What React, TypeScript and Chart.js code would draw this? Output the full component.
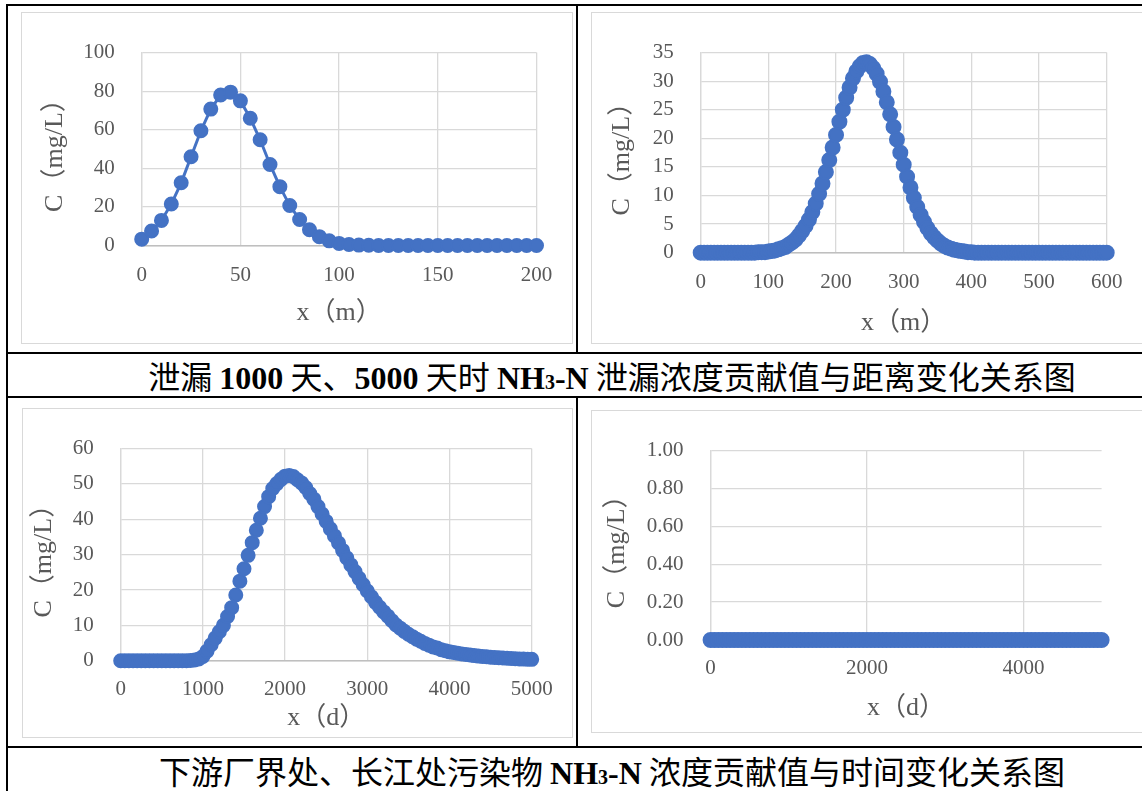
import React, { useEffect, useRef } from "react";
import { Chart, registerables } from "chart.js";
Chart.register(...registerables);

// ---------- DATA ----------
// Chart 1: leakage 1000 days, concentration vs distance (m)
const c1X = [0, 5, 10, 15, 20, 25, 30, 35, 40, 45, 50, 55, 60, 65, 70, 75, 80, 85, 90, 95, 100,
  105, 110, 115, 120, 125, 130, 135, 140, 145, 150, 155, 160, 165, 170, 175, 180, 185, 190, 195, 200];
const c1Y = [3.3, 7.5, 13, 21.5, 32.5, 46, 59.5, 70.7, 78, 79.5, 75, 66, 54.8, 42, 30.5, 20.7, 13.5, 8.2, 4.6, 2.4, 1.1,
  0.5, 0.2, 0.1, 0, 0, 0, 0, 0, 0, 0, 0, 0, 0, 0, 0, 0, 0, 0, 0, 0];
const c1XTicks = [0, 50, 100, 150, 200];
const c1YTicks = [0, 20, 40, 60, 80, 100];

// Chart 2: leakage 5000 days, concentration vs distance (m), every 5 m
const c2X = [0, 5, 10, 15, 20, 25, 30, 35, 40, 45, 50, 55, 60, 65, 70, 75, 80, 85, 90, 95,
  100, 105, 110, 115, 120, 125, 130, 135, 140, 145, 150, 155, 160, 165, 170, 175, 180, 185, 190, 195,
  200, 205, 210, 215, 220, 225, 230, 235, 240, 245, 250, 255, 260, 265, 270, 275, 280, 285, 290, 295,
  300, 305, 310, 315, 320, 325, 330, 335, 340, 345, 350, 355, 360, 365, 370, 375, 380, 385, 390, 395,
  400, 405, 410, 415, 420, 425, 430, 435, 440, 445, 450, 455, 460, 465, 470, 475, 480, 485, 490, 495,
  500, 505, 510, 515, 520, 525, 530, 535, 540, 545, 550, 555, 560, 565, 570, 575, 580, 585, 590, 595, 600];
const c2Y = [0, 0, 0, 0, 0, 0, 0, 0, 0, 0, 0, 0, 0, 0, 0, 0, 0, 0.1, 0.1, 0.1,
  0.2, 0.3, 0.4, 0.6, 0.8, 1.0, 1.4, 1.8, 2.3, 3.0, 3.8, 4.7, 5.8, 7.1, 8.6, 10.3, 12.1, 14.1, 16.2, 18.4,
  20.6, 22.9, 25.0, 27.1, 28.9, 30.5, 31.7, 32.6, 33.2, 33.3, 33.0, 32.3, 31.3, 29.9, 28.2, 26.3, 24.2, 22.0, 19.8, 17.5,
  15.4, 13.3, 11.4, 9.6, 8.0, 6.6, 5.4, 4.3, 3.4, 2.7, 2.1, 1.6, 1.2, 0.9, 0.7, 0.5, 0.4, 0.3, 0.2, 0.1,
  0.1, 0, 0, 0, 0, 0, 0, 0, 0, 0, 0, 0, 0, 0, 0, 0, 0, 0, 0, 0,
  0, 0, 0, 0, 0, 0, 0, 0, 0, 0, 0, 0, 0, 0, 0, 0, 0, 0, 0, 0, 0];
const c2XTicks = [0, 100, 200, 300, 400, 500, 600];
const c2YTicks = [0, 5, 10, 15, 20, 25, 30, 35];

// Chart 3: downstream plant boundary, concentration vs time (d), every 50 d
const c3X = [0, 50, 100, 150, 200, 250, 300, 350, 400, 450, 500, 550, 600, 650, 700, 750, 800, 850, 900, 950,
  1000, 1050, 1100, 1150, 1200, 1250, 1300, 1350, 1400, 1450, 1500, 1550, 1600, 1650, 1700, 1750, 1800, 1850, 1900, 1950,
  2000, 2050, 2100, 2150, 2200, 2250, 2300, 2350, 2400, 2450, 2500, 2550, 2600, 2650, 2700, 2750, 2800, 2850, 2900, 2950,
  3000, 3050, 3100, 3150, 3200, 3250, 3300, 3350, 3400, 3450, 3500, 3550, 3600, 3650, 3700, 3750, 3800, 3850, 3900, 3950,
  4000, 4050, 4100, 4150, 4200, 4250, 4300, 4350, 4400, 4450, 4500, 4550, 4600, 4650, 4700, 4750, 4800, 4850, 4900, 4950, 5000];
const c3Y = [0, 0, 0, 0, 0, 0, 0, 0, 0, 0, 0, 0, 0, 0, 0, 0, 0, 0.05, 0.2, 0.5,
  1.2, 2.7, 4.5, 6.4, 8.2, 10.0, 12.5, 15.0, 18.6, 22.5, 26.0, 29.8, 33.4, 36.9, 40.3, 43.6, 46.4, 48.7, 50.1, 51.3,
  52.2, 52.4, 52.1, 51.2, 50.3, 49.0, 47.3, 45.7, 43.6, 41.5, 39.4, 37.3, 35.3, 33.3, 31.2, 29.1, 27.1, 25.2, 23.3, 21.5,
  19.7, 18.1, 16.5, 15.1, 13.8, 12.6, 11.3, 10.1, 9.2, 8.3, 7.5, 6.8, 6.1, 5.5, 4.9, 4.4, 3.9, 3.6, 3.1, 2.8,
  2.5, 2.3, 2.1, 1.9, 1.75, 1.6, 1.45, 1.3, 1.2, 1.1, 1.0, 0.9, 0.82, 0.75, 0.68, 0.62, 0.56, 0.5, 0.46, 0.42, 0.38];
const c3XTicks = [0, 1000, 2000, 3000, 4000, 5000];
const c3YTicks = [0, 10, 20, 30, 40, 50, 60];

// Chart 4: Yangtze river, concentration vs time (d), every 50 d
const c4X = [0, 50, 100, 150, 200, 250, 300, 350, 400, 450, 500, 550, 600, 650, 700, 750, 800, 850, 900, 950,
  1000, 1050, 1100, 1150, 1200, 1250, 1300, 1350, 1400, 1450, 1500, 1550, 1600, 1650, 1700, 1750, 1800, 1850, 1900, 1950,
  2000, 2050, 2100, 2150, 2200, 2250, 2300, 2350, 2400, 2450, 2500, 2550, 2600, 2650, 2700, 2750, 2800, 2850, 2900, 2950,
  3000, 3050, 3100, 3150, 3200, 3250, 3300, 3350, 3400, 3450, 3500, 3550, 3600, 3650, 3700, 3750, 3800, 3850, 3900, 3950,
  4000, 4050, 4100, 4150, 4200, 4250, 4300, 4350, 4400, 4450, 4500, 4550, 4600, 4650, 4700, 4750, 4800, 4850, 4900, 4950, 5000];
const c4Y = [0, 0, 0, 0, 0, 0, 0, 0, 0, 0, 0, 0, 0, 0, 0, 0, 0, 0, 0, 0,
  0, 0, 0, 0, 0, 0, 0, 0, 0, 0, 0, 0, 0, 0, 0, 0, 0, 0, 0, 0,
  0, 0, 0, 0, 0, 0, 0, 0, 0, 0, 0, 0, 0, 0, 0, 0, 0, 0, 0, 0,
  0, 0, 0, 0, 0, 0, 0, 0, 0, 0, 0, 0, 0, 0, 0, 0, 0, 0, 0, 0,
  0, 0, 0, 0, 0, 0, 0, 0, 0, 0, 0, 0, 0, 0, 0, 0, 0, 0, 0, 0, 0];
const c4XTicks = [0, 2000, 4000];
const c4YTicks = [0, 0.2, 0.4, 0.6, 0.8, 1.0];

type Part = { t: string; b?: boolean; sub?: boolean };
const caption1: Part[] = [
  { t: "泄漏 " }, { t: "1000", b: true }, { t: " 天、" }, { t: "5000", b: true }, { t: " 天时 " },
  { t: "NH", b: true }, { t: "3", b: true, sub: true }, { t: "-N", b: true }, { t: " 泄漏浓度贡献值与距离变化关系图" },
];
const caption2: Part[] = [
  { t: "下游厂界处、长江处污染物 " }, { t: "NH", b: true }, { t: "3", b: true, sub: true }, { t: "-N", b: true },
  { t: " 浓度贡献值与时间变化关系图" },
];

// ---------- STYLE ----------
const BLUE = "#4472C4";
const GRID = "#d9d9d9";
const AXIS = "#bfbfbf";
const TEXT = "#595959";
const FONT = '"Liberation Serif", "Noto Sans CJK SC", serif';

type Spec = {
  box: { left: number; top: number; width: number; height: number };
  xs: number[]; ys: number[];
  xMin: number; xMax: number; xTicks: number[];
  yMin: number; yMax: number; yTicks: number[]; yDec: number;
  xTitle: string; yTitle: string;
  plot: { left: number; top: number; right: number; bottom: number };
  yTitlePad: number; xLabelPad: number; xTitlePad: number;
  r: number;
};

const specs: Spec[] = [
  {
    box: { left: 21, top: 12, width: 552, height: 332 },
    xs: c1X, ys: c1Y, xMin: 0, xMax: 200, xTicks: c1XTicks, yMin: 0, yMax: 100, yTicks: c1YTicks, yDec: 0,
    xTitle: "x（m）", yTitle: "C（mg/L）",
    plot: { left: 119.7, top: 30, right: 514.5, bottom: 232.5 },
    yTitlePad: 18, xLabelPad: 17, xTitlePad: 14, r: 6.5,
  },
  {
    box: { left: 591, top: 12, width: 562, height: 332 },
    xs: c2X, ys: c2Y, xMin: 0, xMax: 600, xTicks: c2XTicks, yMin: 0, yMax: 35, yTicks: c2YTicks, yDec: 0,
    xTitle: "x（m）", yTitle: "C（mg/L）",
    plot: { left: 108.7, top: 29.7, right: 514.7, bottom: 239.7 },
    yTitlePad: 15, xLabelPad: 17.5, xTitlePad: 4.5, r: 7,
  },
  {
    box: { left: 22, top: 408, width: 551, height: 330 },
    xs: c3X, ys: c3Y, xMin: 0, xMax: 5000, xTicks: c3XTicks, yMin: 0, yMax: 60, yTicks: c3YTicks, yDec: 0,
    xTitle: "x（d）", yTitle: "C（mg/L）",
    plot: { left: 97.7, top: 27.7, right: 508.7, bottom: 251.7 },
    yTitlePad: 5.5, xLabelPad: 16.5, xTitlePad: 3.5, r: 6.5,
  },
  {
    box: { left: 591, top: 410, width: 562, height: 323 },
    xs: c4X, ys: c4Y, xMin: 0, xMax: 5000, xTicks: c4XTicks, yMin: 0, yMax: 1, yTicks: c4YTicks, yDec: 2,
    xTitle: "x（d）", yTitle: "C（mg/L）",
    plot: { left: 118.6, top: 27, right: 509.6, bottom: 229 },
    yTitlePad: 9.5, xLabelPad: 15.5, xTitlePad: 8.5, r: 7,
  },
];

function ChartBox({ spec }: { spec: Spec }) {
  const ref = useRef<HTMLCanvasElement>(null);
  const W = spec.box.width - 2;
  const H = spec.box.height - 2;
  useEffect(() => {
    const p = spec.plot;
    const chart = new Chart(ref.current!, {
      type: "scatter",
      data: {
        datasets: [
          {
            data: spec.xs.map((x, i) => ({ x, y: spec.ys[i] })),
            showLine: true,
            borderColor: BLUE,
            backgroundColor: BLUE,
            borderWidth: 3,
            pointRadius: spec.r,
            pointBorderWidth: 2,
            pointBackgroundColor: BLUE,
            pointBorderColor: BLUE,
            clip: false,
          } as any,
        ],
      },
      options: {
        animation: false,
        responsive: false,
        events: [],
        layout: { padding: { left: 0, top: p.top, right: W - p.right, bottom: 0 } },
        plugins: { legend: { display: false }, tooltip: { enabled: false } },
        scales: {
          x: {
            type: "linear",
            min: spec.xMin,
            max: spec.xMax,
            afterBuildTicks: (s: any) => {
              s.ticks = spec.xTicks.map((v) => ({ value: v }));
            },
            ticks: {
              autoSkip: false,
              maxRotation: 0,
              padding: spec.xLabelPad,
              color: TEXT,
              font: { family: FONT, size: 21 },
              callback: (v: any) => String(v),
            },
            grid: { color: GRID, lineWidth: 1.3, drawTicks: false },
            border: { display: true, color: AXIS, width: 1.5 },
            title: {
              display: true,
              text: spec.xTitle,
              color: TEXT,
              font: { family: FONT, size: 26 },
              padding: { top: 0, bottom: spec.xTitlePad },
            },
            afterFit: (s: any) => { s.height = H - p.bottom; },
          },
          y: {
            type: "linear",
            min: spec.yMin,
            max: spec.yMax,
            afterBuildTicks: (s: any) => {
              s.ticks = spec.yTicks.map((v) => ({ value: v }));
            },
            ticks: {
              autoSkip: false,
              padding: 27,
              color: TEXT,
              font: { family: FONT, size: 21 },
              callback: (v: any) => Number(v).toFixed(spec.yDec),
            },
            grid: { color: GRID, lineWidth: 1.3, drawTicks: false },
            border: { display: true, color: GRID, width: 1.3 },
            title: {
              display: true,
              text: spec.yTitle,
              color: TEXT,
              font: { family: FONT, size: 26 },
              padding: { top: spec.yTitlePad, bottom: 0 },
            },
            afterFit: (s: any) => { s.width = p.left; },
          },
        },
      } as any,
    });
    return () => chart.destroy();
  }, []);
  return (
    <div
      style={{
        position: "absolute",
        left: spec.box.left,
        top: spec.box.top,
        width: spec.box.width,
        height: spec.box.height,
        border: "1px solid #d9d9d9",
        boxSizing: "border-box",
        background: "#fff",
      }}
    >
      <canvas ref={ref} width={W} height={H} style={{ position: "absolute", left: 0, top: 0 }} />
    </div>
  );
}

function Caption({ parts, top }: { parts: Part[]; top: number }) {
  return (
    <div
      style={{
        position: "absolute",
        left: 8,
        top,
        width: 1208,
        height: 42,
        lineHeight: "42px",
        textAlign: "center",
        whiteSpace: "pre",
        fontSize: 32,
        color: "#000",
        fontFamily: '"Liberation Serif", "Noto Sans CJK SC", serif',
      }}
    >
      {parts.map((p, i) =>
        p.b ? (
          <b key={i} style={p.sub ? { fontSize: 20 } : undefined}>
            {p.t}
          </b>
        ) : (
          <span key={i} style={{ fontFamily: '"Noto Sans CJK SC", sans-serif', fontWeight: 400 }}>
            {p.t}
          </span>
        )
      )}
    </div>
  );
}

const line = (left: number, top: number, width: number, height: number) => (
  <div style={{ position: "absolute", left, top, width, height, background: "#000" }} />
);

export default function App() {
  return (
    <div
      style={{
        position: "absolute",
        left: 0,
        top: 0,
        width: 1142,
        height: 791,
        overflow: "hidden",
        background: "#fff",
      }}
    >
      {specs.map((s, i) => (
        <ChartBox key={i} spec={s} />
      ))}
      <Caption parts={caption1} top={354} />
      <Caption parts={caption2} top={749} />
      {line(6, 4, 1200, 2)}
      {line(6, 4, 2, 800)}
      {line(6, 352, 1200, 2)}
      {line(6, 396, 1200, 2)}
      {line(6, 746, 1200, 2)}
      {line(576, 4, 2, 350)}
      {line(576, 396, 2, 352)}
    </div>
  );
}
